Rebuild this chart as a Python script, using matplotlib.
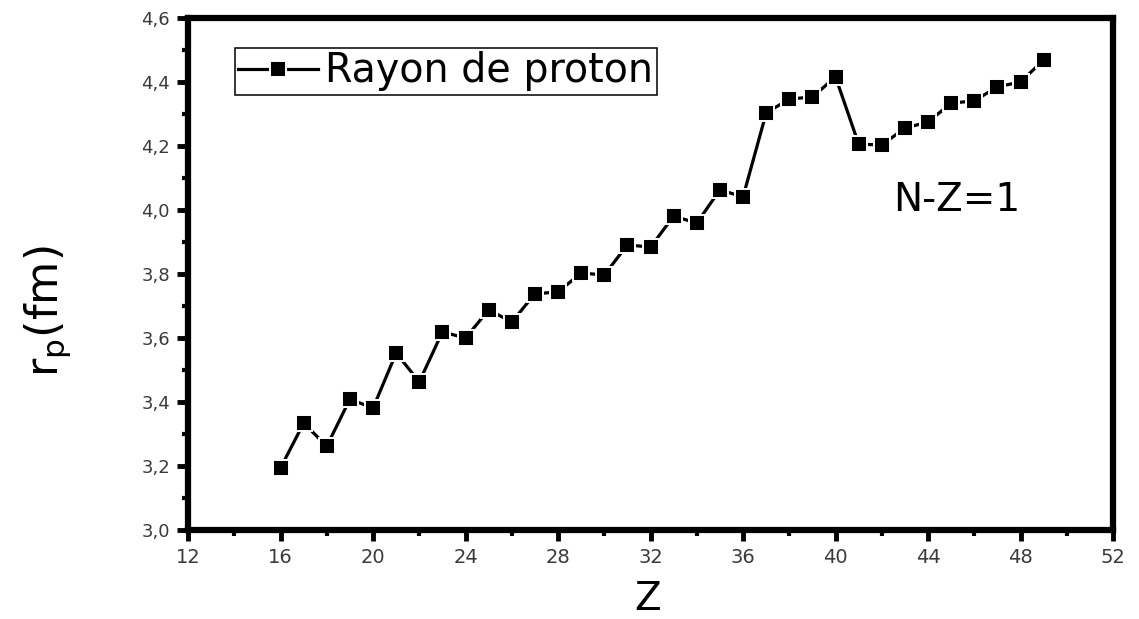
import numpy as np
import matplotlib
matplotlib.use("Agg")
import matplotlib.pyplot as plt
from matplotlib.ticker import MultipleLocator, FuncFormatter

# proton radius along the N-Z=1 line
Z = [16, 17, 18, 19, 20, 21, 22, 23, 24, 25, 26, 27, 28, 29, 30, 31, 32,
     33, 34, 35, 36, 37, 38, 39, 40, 41, 42, 43, 44, 45, 46, 47, 48, 49]
r_p = [3.194, 3.334, 3.262, 3.409, 3.381, 3.553, 3.463, 3.619, 3.600, 3.688,
       3.650, 3.738, 3.744, 3.803, 3.797, 3.891, 3.884, 3.981, 3.959, 4.063,
       4.041, 4.303, 4.347, 4.353, 4.416, 4.206, 4.203, 4.256, 4.275, 4.334,
       4.341, 4.385, 4.400, 4.469]

fig = plt.figure(figsize=(11.39, 6.19), dpi=100)
ax = fig.add_axes([0.1651, 0.1438, 0.8121, 0.8271])

ax.plot(Z, r_p, color="black", lw=2.3, marker="s", ms=11,
        mfc="black", mec="white", mew=1.4, label="Rayon de proton")

ax.set_xlim(12, 52)
ax.set_ylim(3.0, 4.6)
ax.xaxis.set_major_locator(MultipleLocator(4))
ax.xaxis.set_minor_locator(MultipleLocator(2))
ax.yaxis.set_major_locator(MultipleLocator(0.2))
ax.yaxis.set_minor_locator(MultipleLocator(0.1))
ax.xaxis.set_major_formatter(FuncFormatter(lambda v, p: "%d" % round(v)))
ax.yaxis.set_major_formatter(FuncFormatter(lambda v, p: ("%.1f" % v).replace(".", ",")))

for s in ax.spines.values():
    s.set_linewidth(4.5)
    s.set_capstyle("projecting")

ax.tick_params(which="major", direction="out", length=8, width=3.5,
               color="black", labelcolor="#3a3a3a", pad=5)
ax.tick_params(which="minor", direction="out", length=4.5, width=3,
               color="black")
ax.tick_params(axis="x", labelsize=14)
ax.tick_params(axis="y", labelsize=13)

ax.set_ylabel(r"$\mathregular{r_p}$(fm)", fontsize=32, va="center")
ax.yaxis.set_label_coords(-0.152, 0.427)
ax.set_xlabel("Z", fontsize=28, va="center")
ax.xaxis.set_label_coords(0.497, -0.135)

ax.text(42.5, 4.03, "N-Z=1", fontsize=28, ha="left", va="center")

leg = ax.legend(loc="upper left", bbox_to_anchor=(0.051, 0.941),
                borderaxespad=0, fontsize=28.5, handlelength=2.0,
                handletextpad=0.2, borderpad=0.08, fancybox=False,
                framealpha=1, edgecolor="black")
leg.get_frame().set_linewidth(1.1)

fig.savefig("out.png", dpi=100)
